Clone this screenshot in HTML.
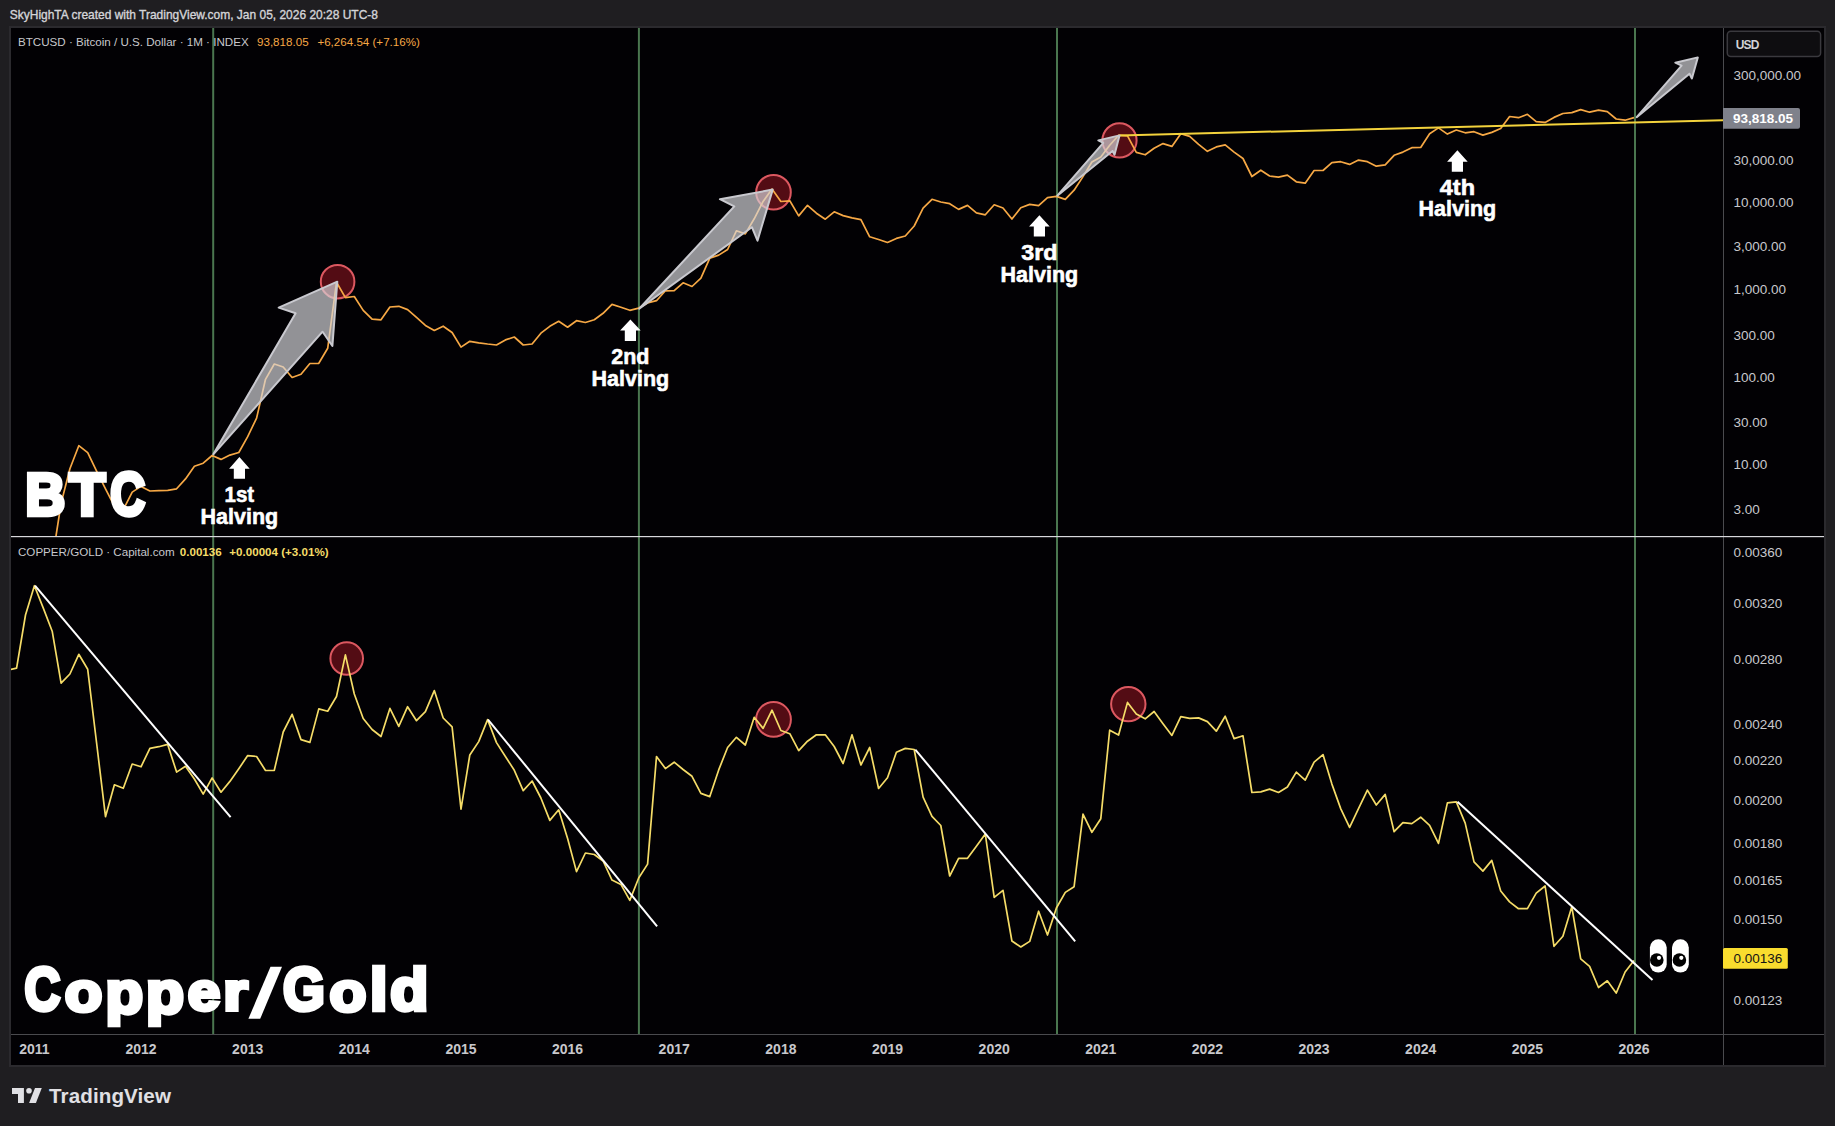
<!DOCTYPE html>
<html><head><meta charset="utf-8"><title>BTC vs Copper/Gold</title>
<style>html,body{margin:0;padding:0;background:#1f1e21;width:1835px;height:1126px;overflow:hidden}svg{display:block}text{font-family:'Liberation Sans', sans-serif}</style>
</head><body>
<svg width="1835" height="1126" viewBox="0 0 1835 1126" font-family="'Liberation Sans', sans-serif">
<rect x="0" y="0" width="1835" height="1126" fill="#1f1e21"/>
<rect x="9" y="26" width="1817" height="1041" fill="#2b2a2e"/>
<rect x="11" y="28" width="1813" height="1037" fill="#020104"/>
<text x="9.8" y="19" font-size="11.97" fill="#d4d4d8" stroke="#d4d4d8" stroke-width="0.35">SkyHighTA created with TradingView.com, Jan 05, 2026 20:28 UTC-8</text>
<rect x="1723" y="28" width="1" height="1037" fill="#4a4a4e"/>
<rect x="11" y="1034" width="1813" height="1" fill="#4a4a4e"/>
<rect x="212.2" y="28" width="2" height="1006" fill="#4a764f"/>
<rect x="637.9" y="28" width="2" height="1006" fill="#4a764f"/>
<rect x="1056.0" y="28" width="2" height="1006" fill="#4a764f"/>
<rect x="1634.0" y="28" width="2" height="1006" fill="#4a764f"/>
<rect x="11" y="536" width="1813" height="1.2" fill="#d8d8dc"/>
<defs><clipPath id="cp1"><rect x="11" y="28" width="1712" height="508"/></clipPath><clipPath id="cp2"><rect x="11" y="537" width="1712" height="497"/></clipPath></defs>
<g clip-path="url(#cp1)"><circle cx="337.6" cy="281.7" r="16.8" fill="rgba(205,30,45,0.40)" stroke="#dc5860" stroke-width="2"/><circle cx="773.5" cy="192.2" r="17.3" fill="rgba(205,30,45,0.40)" stroke="#dc5860" stroke-width="2"/><circle cx="1119.5" cy="140.4" r="17.1" fill="rgba(205,30,45,0.40)" stroke="#dc5860" stroke-width="2"/><polyline points="-18.9,651.4 -10.0,657.3 -1.1,657.3 7.7,613.7 16.6,609.9 25.5,596.4 34.4,575.6 43.3,556.5 52.2,560.2 61.1,503.4 69.9,468.8 78.8,445.7 87.7,452.7 96.6,471.2 105.5,488.9 114.4,506.2 123.3,509.6 132.2,492.1 141.0,486.4 149.9,491.0 158.8,490.7 167.7,490.3 176.6,488.8 185.5,478.9 194.4,466.2 203.2,463.2 212.1,455.5 221.0,459.4 229.9,455.1 238.8,452.5 247.7,436.7 256.6,418.1 265.5,379.3 274.3,364.0 283.2,367.0 292.1,377.5 301.0,374.3 309.9,363.5 318.8,363.3 327.7,348.3 336.5,282.3 345.4,297.6 354.3,296.5 363.2,310.4 372.1,319.1 381.0,319.8 389.9,307.0 398.8,306.3 407.6,309.6 416.5,317.4 425.4,325.4 434.3,330.4 443.2,326.2 452.1,332.5 461.0,347.1 469.8,341.3 478.7,342.8 487.6,344.0 496.5,345.0 505.4,339.9 514.3,337.0 523.2,345.0 532.1,344.0 540.9,333.2 549.8,326.3 558.7,321.3 567.6,327.2 576.5,320.7 585.4,322.5 594.3,319.8 603.1,313.3 612.0,304.4 620.9,307.2 629.8,310.3 638.7,308.1 647.6,302.9 656.5,300.7 665.4,290.8 674.2,290.6 683.1,282.8 692.0,286.5 700.9,278.1 709.8,258.1 718.7,255.1 727.6,249.5 736.4,230.8 745.3,233.9 754.2,218.8 763.1,201.4 772.0,189.1 780.9,201.5 789.8,200.8 798.7,215.9 807.5,205.3 816.4,213.2 825.3,219.2 834.2,211.8 843.1,215.6 852.0,217.9 860.9,219.7 869.7,236.8 878.6,239.5 887.5,242.5 896.4,238.4 905.3,236.0 914.2,226.0 923.1,208.1 932.0,199.3 940.8,202.0 949.7,203.7 958.6,209.4 967.5,205.4 976.4,212.8 985.3,214.8 994.2,204.8 1003.0,208.0 1011.9,219.0 1020.8,207.7 1029.7,204.4 1038.6,205.7 1047.5,197.6 1056.4,196.4 1065.3,199.4 1074.1,190.2 1083.0,176.6 1091.9,162.0 1100.8,157.0 1109.7,145.3 1118.6,135.2 1127.5,135.9 1136.3,152.4 1145.2,154.8 1154.1,148.3 1163.0,143.6 1171.9,146.4 1180.8,133.7 1189.7,136.4 1198.6,144.3 1207.4,151.3 1216.3,146.9 1225.2,144.9 1234.1,152.1 1243.0,158.5 1251.9,176.5 1260.8,170.2 1269.6,176.0 1278.5,177.2 1287.4,175.1 1296.3,181.8 1305.2,183.2 1314.1,170.5 1323.0,170.5 1331.9,162.7 1340.7,161.7 1349.6,164.4 1358.5,160.1 1367.4,161.7 1376.3,166.2 1385.2,164.8 1394.1,155.3 1402.9,152.1 1411.8,147.7 1420.7,147.5 1429.6,133.7 1438.5,127.9 1447.4,134.1 1456.3,130.0 1465.2,132.8 1474.0,131.7 1482.9,135.1 1491.8,132.4 1500.7,128.5 1509.6,116.5 1518.5,117.7 1527.4,114.3 1536.2,121.6 1545.1,122.4 1554.0,117.4 1562.9,113.5 1571.8,112.6 1580.7,109.6 1589.6,112.2 1598.5,110.2 1607.3,111.7 1616.2,119.0 1625.1,120.2 1634.0,117.6" fill="none" stroke="#f6a845" stroke-width="1.7" stroke-linejoin="round"/><line x1="1119.5" y1="135.4" x2="1723" y2="120.3" stroke="#f3d23c" stroke-width="2"/><polygon points="213.3,454.3 295.6,313.3 278.7,307.6 337.3,281.7 332.4,346.0 322.6,331.7" fill="rgba(215,215,220,0.68)" stroke="#c9c9cf" stroke-width="2" stroke-linejoin="round"/><polygon points="639.2,308.7 734.3,206.4 719.9,199.2 772.7,189.6 757.5,240.7 751.9,227.2" fill="rgba(215,215,220,0.68)" stroke="#c9c9cf" stroke-width="2" stroke-linejoin="round"/><polygon points="1057.3,195.7 1103.3,142.9 1098.3,140.4 1119.5,135.4 1114.5,154.7 1112.6,151.0" fill="rgba(215,215,220,0.68)" stroke="#c9c9cf" stroke-width="2" stroke-linejoin="round"/><polygon points="1636.7,117.2 1681.6,65.6 1675.3,62.7 1697.8,57.4 1691.9,78.6 1689.5,73.7" fill="rgba(215,215,220,0.68)" stroke="#c9c9cf" stroke-width="2" stroke-linejoin="round"/><polygon points="239.4,457.1 249.7,468.8 245.0,468.8 245.0,478.8 233.8,478.8 233.8,468.8 229.1,468.8" fill="#ffffff"/><text x="239.4" y="501.5" text-anchor="middle" font-size="22.8" font-weight="700" fill="#fff" stroke="#fff" stroke-width="0.6" textLength="29.6" lengthAdjust="spacingAndGlyphs">1st</text><text x="239.4" y="523.5" text-anchor="middle" font-size="22.8" font-weight="700" fill="#fff" stroke="#fff" stroke-width="0.6" textLength="77.6" lengthAdjust="spacingAndGlyphs">Halving</text><polygon points="630.4,319.4 640.7,330.6 636.0,330.6 636.0,340.9 624.8,340.9 624.8,330.6 620.1,330.6" fill="#ffffff"/><text x="630.4" y="363.5" text-anchor="middle" font-size="22.8" font-weight="700" fill="#fff" stroke="#fff" stroke-width="0.6" textLength="38.2" lengthAdjust="spacingAndGlyphs">2nd</text><text x="630.4" y="385.7" text-anchor="middle" font-size="22.8" font-weight="700" fill="#fff" stroke="#fff" stroke-width="0.6" textLength="77.6" lengthAdjust="spacingAndGlyphs">Halving</text><polygon points="1039.4,215.3 1049.7,226.6 1045.0,226.6 1045.0,236.6 1033.8,236.6 1033.8,226.6 1029.1,226.6" fill="#ffffff"/><text x="1039.4" y="259.5" text-anchor="middle" font-size="22.8" font-weight="700" fill="#fff" stroke="#fff" stroke-width="0.6" textLength="36.2" lengthAdjust="spacingAndGlyphs">3rd</text><text x="1039.4" y="281.7" text-anchor="middle" font-size="22.8" font-weight="700" fill="#fff" stroke="#fff" stroke-width="0.6" textLength="77.6" lengthAdjust="spacingAndGlyphs">Halving</text><polygon points="1457.4,150.2 1467.7,161.8 1463.0,161.8 1463.0,171.8 1451.8,171.8 1451.8,161.8 1447.1,161.8" fill="#ffffff"/><text x="1457.4" y="194.6" text-anchor="middle" font-size="22.8" font-weight="700" fill="#fff" stroke="#fff" stroke-width="0.6" textLength="35.2" lengthAdjust="spacingAndGlyphs">4th</text><text x="1457.4" y="216.4" text-anchor="middle" font-size="22.8" font-weight="700" fill="#fff" stroke="#fff" stroke-width="0.6" textLength="77.6" lengthAdjust="spacingAndGlyphs">Halving</text><text transform="matrix(0.8945,0,0,0.9569,25.32,514.85)" x="0" y="0" font-size="62" font-weight="700" fill="#fff" stroke="#fff" stroke-width="4.5" stroke-linejoin="miter">B</text><text transform="matrix(0.9512,0,0,0.9569,69.23,514.85)" x="0" y="0" font-size="62" font-weight="700" fill="#fff" stroke="#fff" stroke-width="4.5" stroke-linejoin="miter">T</text><text transform="matrix(0.7803,0,0,0.9735,110.30,515.10)" x="0" y="0" font-size="62" font-weight="700" fill="#fff" stroke="#fff" stroke-width="4.5" stroke-linejoin="miter">C</text></g>
<g clip-path="url(#cp2)"><circle cx="346.7" cy="658.5" r="16.3" fill="rgba(205,30,45,0.40)" stroke="#dc5860" stroke-width="2"/><circle cx="773.5" cy="719.4" r="17.4" fill="rgba(205,30,45,0.40)" stroke="#dc5860" stroke-width="2"/><circle cx="1128.3" cy="704.1" r="17.2" fill="rgba(205,30,45,0.40)" stroke="#dc5860" stroke-width="2"/><polyline points="7.7,670.0 16.6,668.2 25.5,615.0 34.4,585.7 43.3,608.1 52.2,631.2 61.1,683.2 69.9,674.0 78.8,654.3 87.7,669.3 96.6,743.0 105.5,816.7 114.4,784.8 123.3,788.3 132.2,764.0 141.0,766.8 149.9,748.3 158.8,746.7 167.7,744.4 176.6,772.1 185.5,766.3 194.4,779.0 203.2,794.1 212.1,777.9 221.0,792.2 229.9,781.4 238.8,768.7 247.7,755.6 256.6,756.5 265.5,770.5 274.3,770.3 283.2,732.0 292.1,714.3 301.0,739.6 309.9,742.4 318.8,708.9 327.7,711.2 336.5,696.5 345.4,654.9 354.3,694.0 363.2,718.5 372.1,729.5 381.0,736.5 389.9,708.4 398.8,726.4 407.6,706.7 416.5,720.7 425.4,711.7 434.3,690.6 443.2,718.0 452.1,726.9 461.0,809.1 469.8,755.0 478.7,741.6 487.6,719.6 496.5,742.6 505.4,756.5 514.3,770.3 523.2,790.6 532.1,781.0 540.9,798.0 549.8,820.4 558.7,809.8 567.6,838.5 576.5,871.6 585.4,853.0 594.3,854.5 603.1,861.0 612.0,880.1 620.9,884.4 629.8,900.4 638.7,878.0 647.6,864.1 656.5,756.5 665.4,768.6 674.2,762.2 683.1,769.5 692.0,776.3 700.9,793.4 709.8,796.6 718.7,769.9 727.6,747.5 736.4,737.3 745.3,745.0 754.2,717.3 763.1,728.4 772.0,710.2 780.9,730.5 789.8,733.7 798.7,750.7 807.5,741.2 816.4,734.8 825.3,734.8 834.2,746.5 843.1,763.5 852.0,734.8 860.9,765.0 869.7,747.5 878.6,788.5 887.5,777.8 896.4,752.2 905.3,748.4 914.2,749.5 923.1,797.1 932.0,816.3 940.8,825.5 949.7,876.0 958.6,858.3 967.5,858.3 976.4,846.2 985.3,834.0 994.2,897.3 1003.0,890.3 1011.9,941.0 1020.8,947.0 1029.7,941.4 1038.6,911.2 1047.5,935.0 1056.4,908.0 1065.3,892.4 1074.1,886.7 1083.0,814.2 1091.9,832.3 1100.8,818.7 1109.7,730.2 1118.6,735.0 1127.5,702.4 1136.3,714.1 1145.2,718.8 1154.1,711.5 1163.0,723.7 1171.9,735.4 1180.8,716.7 1189.7,718.4 1198.6,717.9 1207.4,721.6 1216.3,731.2 1225.2,716.2 1234.1,738.6 1243.0,735.8 1251.9,792.5 1260.8,791.9 1269.6,789.1 1278.5,792.5 1287.4,787.0 1296.3,772.1 1305.2,780.2 1314.1,762.1 1323.0,754.6 1331.9,784.1 1340.7,808.6 1349.6,827.4 1358.5,808.6 1367.4,790.1 1376.3,805.0 1385.2,794.4 1394.1,831.7 1402.9,822.7 1411.8,823.6 1420.7,817.2 1429.6,825.3 1438.5,843.4 1447.4,802.9 1456.3,801.8 1465.2,823.1 1474.0,861.9 1482.9,871.1 1491.8,860.4 1500.7,891.0 1509.6,901.9 1518.5,908.7 1527.4,908.7 1536.2,893.2 1545.1,886.0 1554.0,946.3 1562.9,936.2 1571.8,906.8 1580.7,958.9 1589.6,966.4 1598.5,987.5 1607.3,980.8 1616.2,993.1 1625.1,972.0 1634.0,960.4" fill="none" stroke="#f5dc68" stroke-width="1.7" stroke-linejoin="round"/><line x1="35" y1="585.7" x2="230.6" y2="817.2" stroke="#ffffff" stroke-width="2"/><line x1="488" y1="719.6" x2="657.1" y2="926.4" stroke="#ffffff" stroke-width="2"/><line x1="915.3" y1="749.6" x2="1075.2" y2="941.4" stroke="#ffffff" stroke-width="2"/><line x1="1457.5" y1="801.8" x2="1652.5" y2="980" stroke="#ffffff" stroke-width="2"/><text transform="matrix(0.8000,0,0,0.9818,24.60,1010.37)" x="0" y="0" font-size="62" font-weight="700" fill="#fff" stroke="#fff" stroke-width="4.5" stroke-linejoin="miter">C</text><text transform="matrix(0.9912,0,0,0.8909,64.78,1010.63)" x="0" y="0" font-size="62" font-weight="700" fill="#fff" stroke="#fff" stroke-width="4.5" stroke-linejoin="miter">o</text><text transform="matrix(0.9917,0,0,0.9480,105.39,1012.67)" x="0" y="0" font-size="62" font-weight="700" fill="#fff" stroke="#fff" stroke-width="4.5" stroke-linejoin="miter">p</text><text transform="matrix(1.0028,0,0,0.9480,145.98,1012.67)" x="0" y="0" font-size="62" font-weight="700" fill="#fff" stroke="#fff" stroke-width="4.5" stroke-linejoin="miter">p</text><text transform="matrix(0.9432,0,0,0.8727,187.69,1010.39)" x="0" y="0" font-size="62" font-weight="700" fill="#fff" stroke="#fff" stroke-width="4.5" stroke-linejoin="miter">e</text><text transform="matrix(1.0189,0,0,0.8608,223.32,1009.96)" x="0" y="0" font-size="62" font-weight="700" fill="#fff" stroke="#fff" stroke-width="4.5" stroke-linejoin="miter">r</text><text transform="matrix(0.8669,0,0,0.9880,283.08,1010.35)" x="0" y="0" font-size="62" font-weight="700" fill="#fff" stroke="#fff" stroke-width="4.5" stroke-linejoin="miter">G</text><text transform="matrix(0.9726,0,0,0.8909,329.38,1010.63)" x="0" y="0" font-size="62" font-weight="700" fill="#fff" stroke="#fff" stroke-width="4.5" stroke-linejoin="miter">o</text><text transform="matrix(1.0077,0,0,0.9479,369.96,1010.07)" x="0" y="0" font-size="62" font-weight="700" fill="#fff" stroke="#fff" stroke-width="4.5" stroke-linejoin="miter">l</text><text transform="matrix(1.0036,0,0,0.9680,390.35,1010.41)" x="0" y="0" font-size="62" font-weight="700" fill="#fff" stroke="#fff" stroke-width="4.5" stroke-linejoin="miter">d</text><polygon points="248.4,1018.8 260.2,1018.8 282,966.8 270.5,966.8" fill="#fff"/><rect x="1649.8999999999999" y="939.2" width="16.8" height="33.4" rx="8.4" fill="#fff"/><circle cx="1656.8" cy="960" r="6.8" fill="#000"/><circle cx="1659.0" cy="957.8" r="2.1" fill="#fff"/><rect x="1672.0" y="939.2" width="16.8" height="33.4" rx="8.4" fill="#fff"/><circle cx="1679.4" cy="960" r="6.8" fill="#000"/><circle cx="1681.3" cy="957.8" r="2.1" fill="#fff"/></g>
<text x="18" y="45.6" font-size="11.6" fill="#c8c8cc">BTCUSD · Bitcoin / U.S. Dollar · 1M · INDEX</text>
<text x="257" y="45.6" font-size="11.6" fill="#f6a845">93,818.05</text>
<text x="317.4" y="45.6" font-size="11.6" fill="#f6a845">+6,264.54 (+7.16%)</text>
<text x="18" y="556.2" font-size="11.6" fill="#c8c8cc">COPPER/GOLD · Capital.com</text>
<text x="179.8" y="556.2" font-size="11.6" font-weight="700" fill="#f5dc68">0.00136</text>
<text x="229.3" y="556.2" font-size="11.6" font-weight="700" fill="#f5dc68">+0.00004 (+3.01%)</text>
<text x="1733.5" y="79.5" font-size="13.5" fill="#c8c8cc">300,000.00</text>
<text x="1733.5" y="164.7" font-size="13.5" fill="#c8c8cc">30,000.00</text>
<text x="1733.5" y="206.7" font-size="13.5" fill="#c8c8cc">10,000.00</text>
<text x="1733.5" y="251.4" font-size="13.5" fill="#c8c8cc">3,000.00</text>
<text x="1733.5" y="293.5" font-size="13.5" fill="#c8c8cc">1,000.00</text>
<text x="1733.5" y="340.1" font-size="13.5" fill="#c8c8cc">300.00</text>
<text x="1733.5" y="382.1" font-size="13.5" fill="#c8c8cc">100.00</text>
<text x="1733.5" y="427.2" font-size="13.5" fill="#c8c8cc">30.00</text>
<text x="1733.5" y="469.3" font-size="13.5" fill="#c8c8cc">10.00</text>
<text x="1733.5" y="513.9" font-size="13.5" fill="#c8c8cc">3.00</text>
<text x="1733.5" y="556.6" font-size="13.5" fill="#c8c8cc">0.00360</text>
<text x="1733.5" y="607.5" font-size="13.5" fill="#c8c8cc">0.00320</text>
<text x="1733.5" y="663.9" font-size="13.5" fill="#c8c8cc">0.00280</text>
<text x="1733.5" y="728.5" font-size="13.5" fill="#c8c8cc">0.00240</text>
<text x="1733.5" y="764.9" font-size="13.5" fill="#c8c8cc">0.00220</text>
<text x="1733.5" y="804.9" font-size="13.5" fill="#c8c8cc">0.00200</text>
<text x="1733.5" y="848.3" font-size="13.5" fill="#c8c8cc">0.00180</text>
<text x="1733.5" y="884.9" font-size="13.5" fill="#c8c8cc">0.00165</text>
<text x="1733.5" y="923.9" font-size="13.5" fill="#c8c8cc">0.00150</text>
<text x="1733.5" y="1005.2" font-size="13.5" fill="#c8c8cc">0.00123</text>
<rect x="1727.3" y="31.2" width="93.3" height="25.4" rx="3.5" fill="#0e0d10" stroke="#3a393e" stroke-width="1.5"/>
<text x="1735.8" y="49.1" font-size="12" font-weight="700" fill="#d2d2d6" letter-spacing="-0.9">USD</text>
<path d="M1723,108 H1798 a2,2 0 0 1 2,2 V126.7 a2,2 0 0 1 -2,2 H1723 Z" fill="#7f818b"/>
<text x="1733" y="123.3" font-size="13.5" font-weight="700" fill="#ffffff">93,818.05</text>
<rect x="1723" y="948" width="64.8" height="20.8" rx="1.5" fill="#f9dc2e"/>
<text x="1733.5" y="963.1" font-size="13.5" fill="#141414">0.00136</text>
<text x="34.4" y="1054" text-anchor="middle" font-size="14" font-weight="700" fill="#c8c8cc">2011</text>
<text x="141.0" y="1054" text-anchor="middle" font-size="14" font-weight="700" fill="#c8c8cc">2012</text>
<text x="247.7" y="1054" text-anchor="middle" font-size="14" font-weight="700" fill="#c8c8cc">2013</text>
<text x="354.3" y="1054" text-anchor="middle" font-size="14" font-weight="700" fill="#c8c8cc">2014</text>
<text x="461.0" y="1054" text-anchor="middle" font-size="14" font-weight="700" fill="#c8c8cc">2015</text>
<text x="567.6" y="1054" text-anchor="middle" font-size="14" font-weight="700" fill="#c8c8cc">2016</text>
<text x="674.2" y="1054" text-anchor="middle" font-size="14" font-weight="700" fill="#c8c8cc">2017</text>
<text x="780.9" y="1054" text-anchor="middle" font-size="14" font-weight="700" fill="#c8c8cc">2018</text>
<text x="887.5" y="1054" text-anchor="middle" font-size="14" font-weight="700" fill="#c8c8cc">2019</text>
<text x="994.2" y="1054" text-anchor="middle" font-size="14" font-weight="700" fill="#c8c8cc">2020</text>
<text x="1100.8" y="1054" text-anchor="middle" font-size="14" font-weight="700" fill="#c8c8cc">2021</text>
<text x="1207.4" y="1054" text-anchor="middle" font-size="14" font-weight="700" fill="#c8c8cc">2022</text>
<text x="1314.1" y="1054" text-anchor="middle" font-size="14" font-weight="700" fill="#c8c8cc">2023</text>
<text x="1420.7" y="1054" text-anchor="middle" font-size="14" font-weight="700" fill="#c8c8cc">2024</text>
<text x="1527.4" y="1054" text-anchor="middle" font-size="14" font-weight="700" fill="#c8c8cc">2025</text>
<text x="1634.0" y="1054" text-anchor="middle" font-size="14" font-weight="700" fill="#c8c8cc">2026</text>
<g fill="#e0e0e4"><path d="M12,1088 H23.9 V1103 H18 V1094 H12 Z"/><circle cx="29" cy="1090.8" r="2.8"/><path d="M35,1088 H41.8 L35.9,1103 H29.1 Z"/></g>
<text x="49" y="1103" font-size="20.6" font-weight="700" fill="#e0e0e4" letter-spacing="0.1">TradingView</text>
</svg>
</body></html>
